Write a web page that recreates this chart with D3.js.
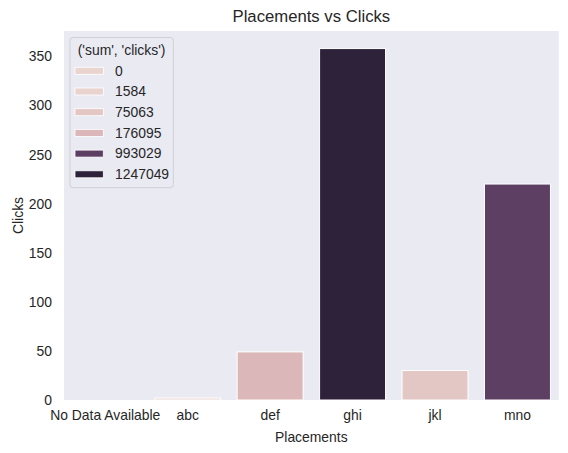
<!DOCTYPE html>
<html>
<head>
<meta charset="utf-8">
<script src="https://cdn.jsdelivr.net/npm/d3@7"></script>
<style>
  body { margin: 0; background: #fff; }
  svg text { font-family: "Liberation Sans", Arial, sans-serif; fill: #262626; }
</style>
</head>
<body>
<svg id="chart" width="568" height="453"></svg>
<script>
// data
const placements = ["No Data Available", "abc", "def", "ghi", "jkl", "mno"];
const clicks = [0, 2, 49, 358, 30, 220];
const sumClicks = [0, 1584, 176095, 1247049, 75063, 993029];
const yTicks = [0, 50, 100, 150, 200, 250, 300, 350];

const rows = placements.map((p, i) => ({ placement: p, clicks: clicks[i], sum: sumClicks[i] }));

// seaborn default cubehelix (start 0, rot .4, hue .8, light .85, dark .15)
function cubehelix(x) {
  const a = 0.8 * x * (1 - x) / 2;
  const phi = 2 * Math.PI * (0.4 * x);
  const c = (p0, p1) => Math.max(0, Math.min(1, x + a * (p0 * Math.cos(phi) + p1 * Math.sin(phi))));
  return d3.rgb(c(-0.14861, 1.78277) * 255, c(-0.29227, -0.90649) * 255, c(1.97294, 0) * 255);
}

// barplot draws with saturation .75
function desat(col) {
  const h = d3.hsl(col);
  h.s *= 0.75;
  return h.formatHex();
}

const margin = { top: 31, right: 9.3, bottom: 53, left: 64 };
const width = 568 - margin.left - margin.right;
const height = 453 - margin.top - margin.bottom;

const svg = d3.select("#chart");
const g = svg.append("g").attr("transform", `translate(${margin.left},${margin.top})`);

const x = d3.scaleBand().domain(placements).range([0, width]).paddingInner(0.2).paddingOuter(0.1);
const y = d3.scaleLinear().domain([0, d3.max(clicks) * 1.05]).range([height, 0]);
const color = d3.scaleSequential(t => desat(cubehelix(0.85 - 0.7 * t))).domain(d3.extent(sumClicks));

g.append("rect")
  .attr("width", width)
  .attr("height", height)
  .attr("fill", "#eaeaf2");

g.selectAll("rect.bar")
  .data(rows)
  .join("rect")
  .attr("class", "bar")
  .attr("x", d => x(d.placement))
  .attr("width", x.bandwidth())
  .attr("y", d => y(d.clicks))
  .attr("height", d => height - y(d.clicks))
  .attr("fill", d => color(d.sum))
  .attr("stroke", "#fff")
  .attr("stroke-width", 1);

const xAxis = g.append("g")
  .attr("transform", `translate(0,${height})`)
  .call(d3.axisBottom(x).tickSize(0).tickPadding(10));
xAxis.select(".domain").remove();
xAxis.selectAll("text").attr("font-size", "13.9px").attr("fill", "#262626");

const yAxis = g.append("g")
  .call(d3.axisLeft(y).tickValues(yTicks).tickSize(0).tickPadding(12));
yAxis.select(".domain").remove();
yAxis.selectAll("text").attr("font-size", "13.9px").attr("fill", "#262626");

// title and axis labels
svg.append("text")
  .attr("x", margin.left + width / 2)
  .attr("y", 22.3)
  .attr("text-anchor", "middle")
  .attr("font-size", "16.7px")
  .text("Placements vs Clicks");

svg.append("text")
  .attr("x", margin.left + width / 2)
  .attr("y", 442)
  .attr("text-anchor", "middle")
  .attr("font-size", "13.9px")
  .text("Placements");

svg.append("text")
  .attr("transform", `translate(22.5,${margin.top + height / 2}) rotate(-90)`)
  .attr("text-anchor", "middle")
  .attr("font-size", "13.9px")
  .text("Clicks");

// legend
const levels = sumClicks.slice().sort((a, b) => a - b);
const legend = svg.append("g").attr("transform", "translate(70,37.5)");

legend.append("rect")
  .attr("width", 103.3)
  .attr("height", 150.2)
  .attr("rx", 3)
  .attr("fill", "#eaeaf2")
  .attr("fill-opacity", 0.8)
  .attr("stroke", "#cfcfd4");

legend.append("text")
  .attr("x", 51.6)
  .attr("y", 17)
  .attr("text-anchor", "middle")
  .attr("font-size", "13.9px")
  .text("('sum', 'clicks')");

const item = legend.selectAll("g.item")
  .data(levels)
  .join("g")
  .attr("class", "item")
  .attr("transform", (d, i) => `translate(0,${33.3 + i * 20.7})`);

item.append("rect")
  .attr("x", 5)
  .attr("y", -3.5)
  .attr("width", 28.3)
  .attr("height", 7)
  .attr("fill", d => color(d))
  .attr("stroke", "#fff")
  .attr("stroke-width", 0.8);

item.append("text")
  .attr("x", 45)
  .attr("dy", "0.35em")
  .attr("font-size", "13.9px")
  .text(d => d);
</script>
</body>
</html>
